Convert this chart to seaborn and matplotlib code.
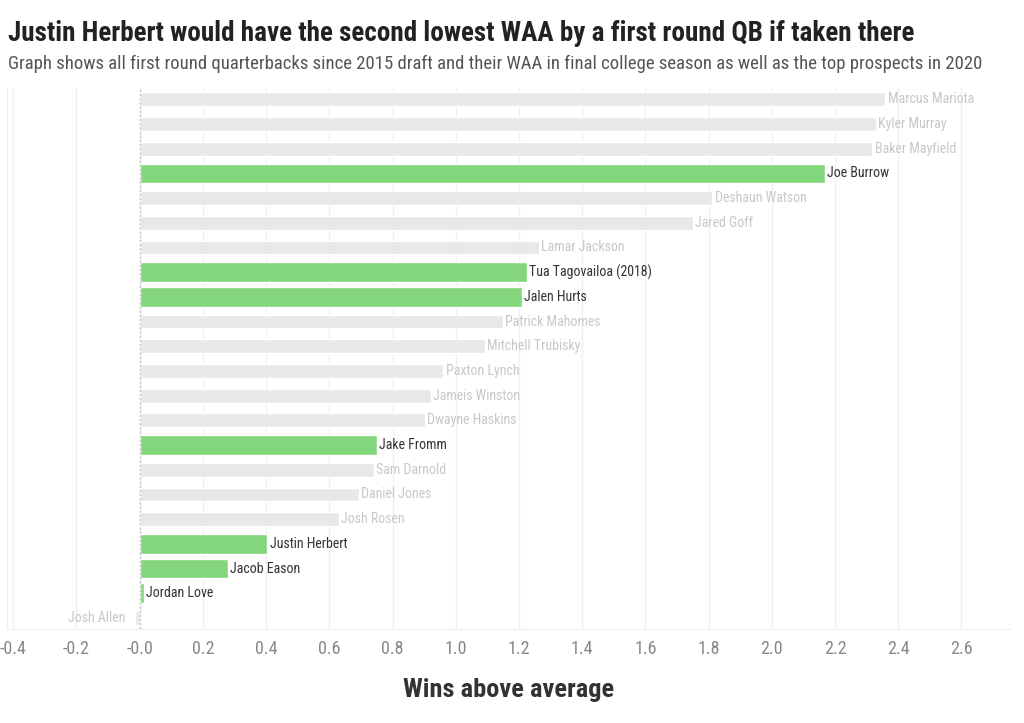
import matplotlib
matplotlib.use("Agg")
import matplotlib.pyplot as plt
from matplotlib import font_manager
import pandas as pd
import seaborn as sns

players = ["Marcus Mariota", "Kyler Murray", "Baker Mayfield", "Joe Burrow",
           "Deshaun Watson", "Jared Goff", "Lamar Jackson", "Tua Tagovailoa (2018)",
           "Jalen Hurts", "Patrick Mahomes", "Mitchell Trubisky", "Paxton Lynch",
           "Jameis Winston", "Dwayne Haskins", "Jake Fromm", "Sam Darnold",
           "Daniel Jones", "Josh Rosen", "Justin Herbert", "Jacob Eason",
           "Jordan Love", "Josh Allen"]
waa = [2.358, 2.328, 2.318, 2.168, 1.812, 1.750, 1.263, 1.224, 1.208, 1.149,
       1.092, 0.960, 0.921, 0.902, 0.750, 0.741, 0.693, 0.630, 0.403, 0.279,
       0.013, -0.016]
# 2020 prospects are highlighted
prospects = ["Joe Burrow", "Tua Tagovailoa (2018)", "Jalen Hurts", "Jake Fromm",
             "Justin Herbert", "Jacob Eason", "Jordan Love"]
tick_values = [-0.4, -0.2, 0.0, 0.2, 0.4, 0.6, 0.8, 1.0, 1.2, 1.4, 1.6, 1.8,
               2.0, 2.2, 2.4, 2.6]
tick_labels = ["-0.4", "-0.2", "-0.0", "0.2", "0.4", "0.6", "0.8", "1.0", "1.2",
               "1.4", "1.6", "1.8", "2.0", "2.2", "2.4", "2.6"]

df = pd.DataFrame({"player": players, "waa": waa})
df["prospect"] = df.player.isin(prospects)

sns.set_style("white")
available = {f.name for f in font_manager.fontManager.ttflist}
font = "DejaVu Sans"
for cand in ["Roboto Condensed", "Liberation Sans Narrow", "DejaVu Sans Condensed",
             "Open Sans Condensed", "Roboto"]:
    if cand in available:
        font = cand
        break
plt.rcParams["font.family"] = [font, "DejaVu Sans"]

fig = plt.figure(figsize=(10.24, 7.23), dpi=100)
ax = fig.add_axes([0.0068, 0.130, 0.980, 0.748])

for x in tick_values:
    ax.axvline(x, color="#f0f0f0", lw=1, zorder=0)

sns.barplot(data=df[~df.prospect], x="waa", y="player", order=players,
            color="#e8e8e8", width=0.56, saturation=1, ax=ax, zorder=2)
sns.barplot(data=df[df.prospect], x="waa", y="player", order=players,
            color="#84d67c", width=0.8, saturation=1, ax=ax, zorder=2)

ax.axvline(0, color="#c4c4c4", lw=1, ls=(0, (1.5, 1.5)), zorder=3)

for i, row in df.iterrows():
    col = "#333333" if row.prospect else "#c8c8c8"
    if row.waa >= 0:
        ax.text(row.waa + 0.008, i, row.player, va="center", ha="left",
                fontsize=10, color=col)
    else:
        ax.text(row.waa - 0.03, i, row.player, va="center", ha="right",
                fontsize=10, color=col)

ax.set_xlim(-0.42, 2.755)
ax.set_ylim(21.45, -0.45)
ax.set_xticks(tick_values)
ax.set_xticklabels(tick_labels, fontsize=13, color="#888888")
ax.tick_params(axis="x", length=0, pad=8)
ax.set_yticks([])
ax.set_ylabel("")
ax.set_xlabel("Wins above average", fontsize=19, fontweight="bold",
              color="#333333", labelpad=14)
for s in ["top", "right"]:
    ax.spines[s].set_visible(False)
for s in ["left", "bottom"]:
    ax.spines[s].set_color("#eeeeee")

fig.text(0.008, 0.953, "Justin Herbert would have the second lowest WAA by a first round QB if taken there",
         fontsize=19.5, fontweight="bold", color="#222222", va="center")
fig.text(0.008, 0.912, "Graph shows all first round quarterbacks since 2015 draft and their WAA in final college season as well as the top prospects in 2020",
         fontsize=13.5, color="#555555", va="center")

plt.savefig("out.png", dpi=100)
